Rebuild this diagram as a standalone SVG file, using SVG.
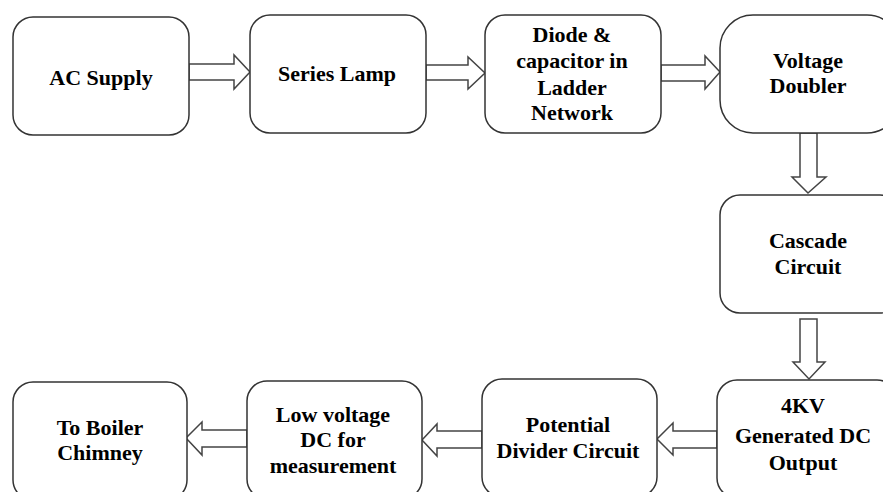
<svg xmlns="http://www.w3.org/2000/svg" width="883" height="492" viewBox="0 0 883 492">
<style>
.box{fill:#fff;stroke:#333;stroke-width:1.5}
.arr{fill:#fff;stroke:#444;stroke-width:1.5;stroke-linejoin:miter}
.t{font-family:'Liberation Serif','Times New Roman','DejaVu Serif',serif;font-weight:700;font-size:22px;fill:#000;text-anchor:middle}
</style>
<rect width="883" height="492" fill="#fff"/>
<g id="connectors">
<polygon class="arr" points="189,64 234,64 234,55 250,72 234,89 234,80 189,80"/>
<polygon class="arr" points="426,65 468,65 468,57 485,73 468,89 468,80 426,80"/>
<polygon class="arr" points="661,65 705,65 705,56 720,72 705,89 705,81 661,81"/>
<polygon class="arr" points="800,133 800,177 792,177 808,193 826,177 817,177 817,133"/>
<polygon class="arr" points="800,319 800,362 793,362 809,379 825,362 817,362 817,319"/>
<polygon class="arr" points="717,431 673,431 673,423 657,439 673,455 673,448 717,448"/>
<polygon class="arr" points="482,431 437,431 437,424 422,440 437,456 437,448 482,448"/>
<polygon class="arr" points="247,430 202,430 202,422 186,438 202,455 202,447 247,447"/>
</g>
<g class="t" font-family="Liberation Serif, serif">
<g id="ac-supply"><rect class="box" x="13" y="17" width="176" height="118" rx="20"/><text x="101" y="85">AC Supply</text></g>
<g id="series-lamp"><rect class="box" x="250" y="15" width="176" height="118" rx="20"/><text x="337" y="81">Series Lamp</text></g>
<g id="diode-ladder"><rect class="box" x="485" y="15" width="176" height="118" rx="20"/><text x="572" y="42">Diode &amp;</text><text x="572" y="68">capacitor in</text><text x="572" y="95">Ladder</text><text x="572" y="120">Network</text></g>
<g id="voltage-doubler"><rect class="box" x="720" y="15" width="180" height="118" rx="33"/><text x="808" y="68">Voltage</text><text x="808" y="93">Doubler</text></g>
<g id="cascade"><rect class="box" x="720" y="195" width="180" height="118" rx="20"/><text x="808" y="248">Cascade</text><text x="808" y="274">Circuit</text></g>
<g id="dc-output"><rect class="box" x="717" y="380" width="180" height="118" rx="20"/><text x="803" y="413">4KV</text><text x="803" y="443">Generated DC</text><text x="803" y="470">Output</text></g>
<g id="potential-divider"><rect class="box" x="482" y="379" width="175" height="118" rx="20"/><text x="568" y="432">Potential</text><text x="568" y="458">Divider Circuit</text></g>
<g id="low-voltage"><rect class="box" x="247" y="381" width="175" height="118" rx="20"/><text x="333" y="422">Low voltage</text><text x="333" y="447">DC for</text><text x="333" y="473">measurement</text></g>
<g id="boiler"><rect class="box" x="13" y="382" width="174" height="118" rx="20"/><text x="100" y="435">To Boiler</text><text x="100" y="460">Chimney</text></g>
</g>
</svg>
